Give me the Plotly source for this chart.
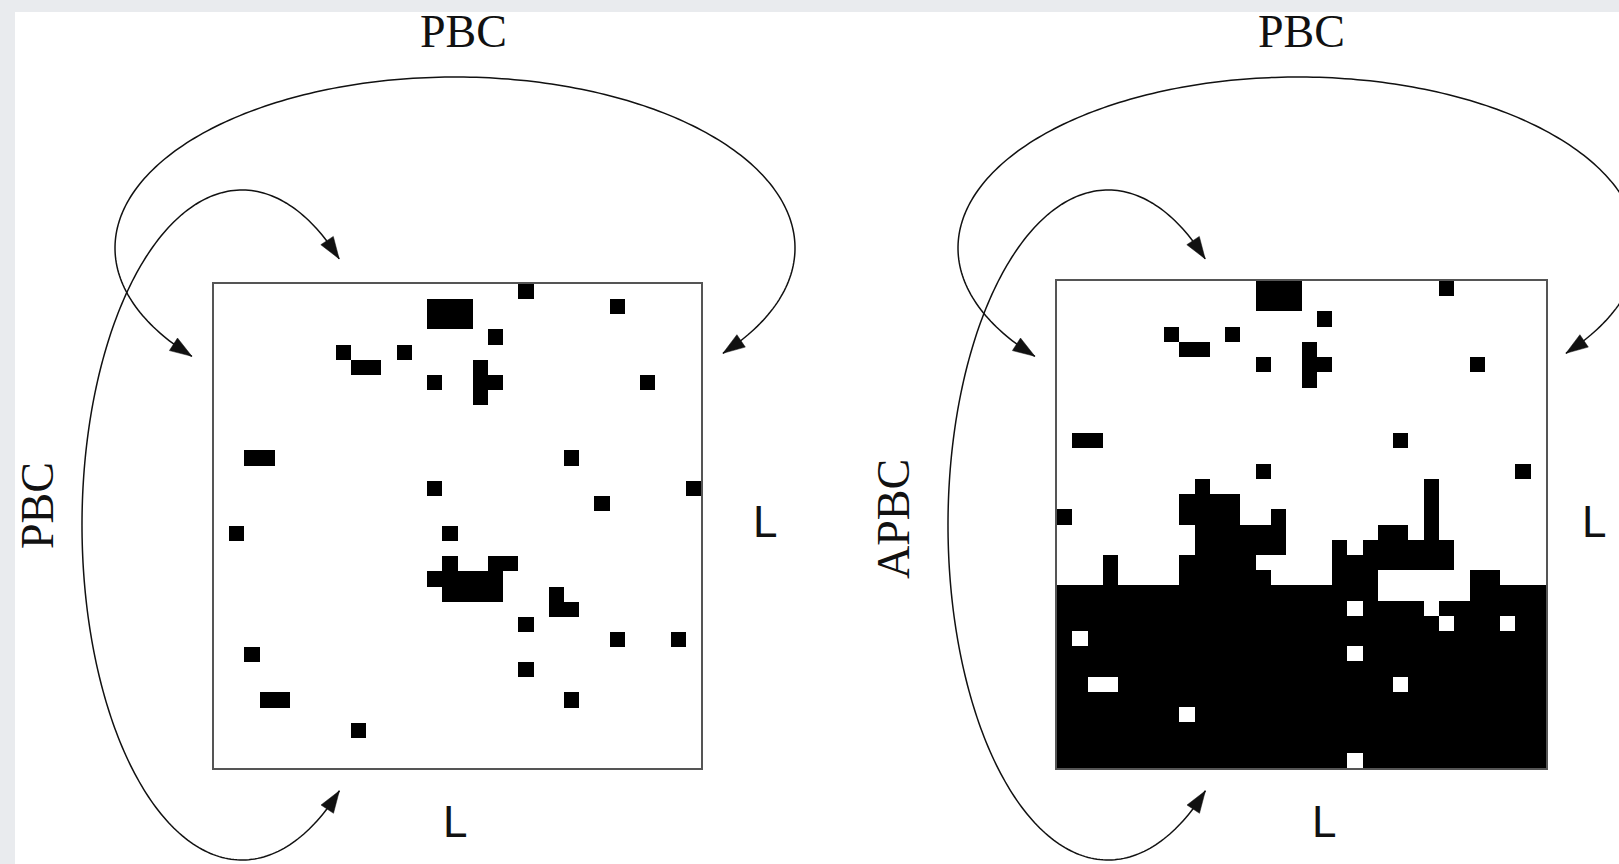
import math
import plotly.graph_objects as go

W, H = 1619, 864
N = 32

# Black-cell runs (start_col, end_col) per lattice row, row 0 = top
pbc_runs = [
    [(20, 20)],
    [(14, 16), (26, 26)],
    [(14, 16)],
    [(18, 18)],
    [(8, 8), (12, 12)],
    [(9, 10), (17, 17)],
    [(14, 14), (17, 18), (28, 28)],
    [(17, 17)],
    [], [], [],
    [(2, 3), (23, 23)],
    [],
    [(14, 14), (31, 31)],
    [(25, 25)],
    [],
    [(1, 1), (15, 15)],
    [],
    [(15, 15), (18, 19)],
    [(14, 18)],
    [(15, 18), (22, 22)],
    [(22, 23)],
    [(20, 20)],
    [(26, 26), (30, 30)],
    [(2, 2)],
    [(20, 20)],
    [],
    [(3, 4), (23, 23)],
    [],
    [(9, 9)],
    [], [],
]

apbc_runs = [
    [(13, 15), (25, 25)],
    [(13, 15)],
    [(17, 17)],
    [(7, 7), (11, 11)],
    [(8, 9), (16, 16)],
    [(13, 13), (16, 17), (27, 27)],
    [(16, 16)],
    [], [], [],
    [(1, 2), (22, 22)],
    [],
    [(13, 13), (30, 30)],
    [(9, 9), (24, 24)],
    [(8, 11), (24, 24)],
    [(0, 0), (8, 11), (14, 14), (24, 24)],
    [(9, 14), (21, 22), (24, 24)],
    [(9, 14), (18, 18), (20, 25)],
    [(3, 3), (8, 12), (18, 25)],
    [(3, 3), (8, 13), (18, 20), (27, 28)],
    [(0, 20), (27, 31)],
    [(0, 18), (20, 23), (25, 31)],
    [(0, 24), (26, 28), (30, 31)],
    [(0, 0), (2, 31)],
    [(0, 18), (20, 31)],
    [(0, 31)],
    [(0, 1), (4, 21), (23, 31)],
    [(0, 31)],
    [(0, 7), (9, 31)],
    [(0, 31)],
    [(0, 31)],
    [(0, 18), (20, 31)],
]

left_labels = {"top": "PBC", "side": "PBC", "right": "L", "bottom": "L"}
right_labels = {"top": "PBC", "side": "APBC", "right": "L", "bottom": "L"}


def runs_to_z(runs):
    z = [[0] * N for _ in range(N)]
    for r, row in enumerate(runs):
        for a, b in row:
            for c in range(a, b + 1):
                z[r][c] = 1
    return z


# ---- layout geometry (pixels) ----
boxL = dict(x0=214, x1=701, y0=284, y1=768)
boxR = dict(x0=1057, x1=1546, y0=281, y1=768)

# elliptical arrows: centre, semi-axes, start/end angle (deg, y up)
outer_arc = dict(cx=455, cy=248, a=340, b=171, t0=219.3, t1=-38.0)
inner_arc = dict(cx=242, cy=525, a=160, b=335, t0=52.6, t1=307.5)


def arc_points(p, dx=0, n=240):
    pts = []
    for k in range(n + 1):
        t = math.radians(p["t0"] + (p["t1"] - p["t0"]) * k / n)
        pts.append((p["cx"] + dx + p["a"] * math.cos(t), p["cy"] - p["b"] * math.sin(t)))
    return pts


def poly_path(pts):
    return "M " + " L ".join("%.2f,%.2f" % q for q in pts)


def head_path(tip, prev, length=22, half=7.5):
    dx, dy = tip[0] - prev[0], tip[1] - prev[1]
    m = (dx * dx + dy * dy) ** 0.5
    ux, uy = dx / m, dy / m
    bx, by = tip[0] - ux * length, tip[1] - uy * length
    px, py = -uy, ux
    return "M %.1f,%.1f L %.1f,%.1f L %.1f,%.1f Z" % (
        tip[0], tip[1], bx + px * half, by + py * half, bx - px * half, by - py * half)


fig = go.Figure()

for idx, (runs, box) in enumerate([(pbc_runs, boxL), (apbc_runs, boxR)]):
    sx = "" if idx == 0 else "2"
    fig.add_trace(go.Heatmap(
        z=runs_to_z(runs), x=list(range(N)), y=list(range(N)),
        colorscale=[[0, "white"], [1, "black"]], zmin=0, zmax=1,
        showscale=False, hoverinfo="skip",
        xaxis="x" + sx, yaxis="y" + sx))

# invisible overlay trace to establish pixel axes
fig.add_trace(go.Scatter(x=[0], y=[0], mode="markers", marker=dict(opacity=0),
                         xaxis="x3", yaxis="y3", hoverinfo="skip", showlegend=False))

ax_common = dict(showgrid=False, zeroline=False, showticklabels=False, ticks="",
                 showline=True, mirror=True, linecolor="#555555", linewidth=2)


def dom_x(b):
    return [b["x0"] / W, b["x1"] / W]


def dom_y(b):
    return [1 - b["y1"] / H, 1 - b["y0"] / H]


shapes = [
    dict(type="rect", xref="paper", yref="paper", x0=0, x1=1, y0=1 - 12 / H, y1=1,
         fillcolor="#e9ebee", line=dict(width=0), layer="above"),
    dict(type="rect", xref="paper", yref="paper", x0=0, x1=15 / W, y0=0, y1=1,
         fillcolor="#e9ebee", line=dict(width=0), layer="above"),
]

ink = "#111111"
for dx_out, dx_in in [(0, 0), (843, 866)]:
    for pts in (arc_points(outer_arc, dx_out), arc_points(inner_arc, dx_in)):
        shapes.append(dict(type="path", xref="x3", yref="y3", path=poly_path(pts),
                           line=dict(color=ink, width=1.5), layer="above"))
        shapes.append(dict(type="path", xref="x3", yref="y3",
                           path=head_path(pts[0], pts[3]),
                           fillcolor=ink, line=dict(color=ink, width=0.5), layer="above"))
        shapes.append(dict(type="path", xref="x3", yref="y3",
                           path=head_path(pts[-1], pts[-4]),
                           fillcolor=ink, line=dict(color=ink, width=0.5), layer="above"))

serif = dict(family="Liberation Serif, Times New Roman, serif", size=46, color=ink)
sans = dict(family="Liberation Sans, Arial, sans-serif", size=44, color=ink)

annotations = []
label_pos = [
    (left_labels, (463, 31), (37, 506), (765, 521), (455, 821)),
    (right_labels, (1301, 31), (893, 519), (1594, 521), (1324, 821)),
]
for lab, top, side, right, bottom in label_pos:
    annotations.append(dict(text=lab["top"], x=top[0], y=top[1], xref="x3", yref="y3",
                            showarrow=False, font=serif, xanchor="center", yanchor="middle"))
    annotations.append(dict(text=lab["side"], x=side[0], y=side[1], xref="x3", yref="y3",
                            showarrow=False, font=serif, textangle=-90,
                            xanchor="center", yanchor="middle"))
    annotations.append(dict(text=lab["right"], x=right[0], y=right[1], xref="x3", yref="y3",
                            showarrow=False, font=sans, xanchor="center", yanchor="middle"))
    annotations.append(dict(text=lab["bottom"], x=bottom[0], y=bottom[1], xref="x3",
                            yref="y3", showarrow=False, font=sans,
                            xanchor="center", yanchor="middle"))

fig.update_layout(
    width=W, height=H, margin=dict(l=0, r=0, t=0, b=0),
    paper_bgcolor="white", plot_bgcolor="rgba(0,0,0,0)",
    showlegend=False,
    xaxis=dict(domain=dom_x(boxL), range=[-0.5, N - 0.5], anchor="y", **ax_common),
    yaxis=dict(domain=dom_y(boxL), range=[N - 0.5, -0.5], anchor="x", **ax_common),
    xaxis2=dict(domain=dom_x(boxR), range=[-0.5, N - 0.5], anchor="y2", **ax_common),
    yaxis2=dict(domain=dom_y(boxR), range=[N - 0.5, -0.5], anchor="x2", **ax_common),
    xaxis3=dict(domain=[0, 1], range=[0, W], anchor="y3", visible=False, fixedrange=True),
    yaxis3=dict(domain=[0, 1], range=[H, 0], anchor="x3", visible=False, fixedrange=True),
    shapes=shapes,
    annotations=annotations,
)

fig.write_html("out.html")
